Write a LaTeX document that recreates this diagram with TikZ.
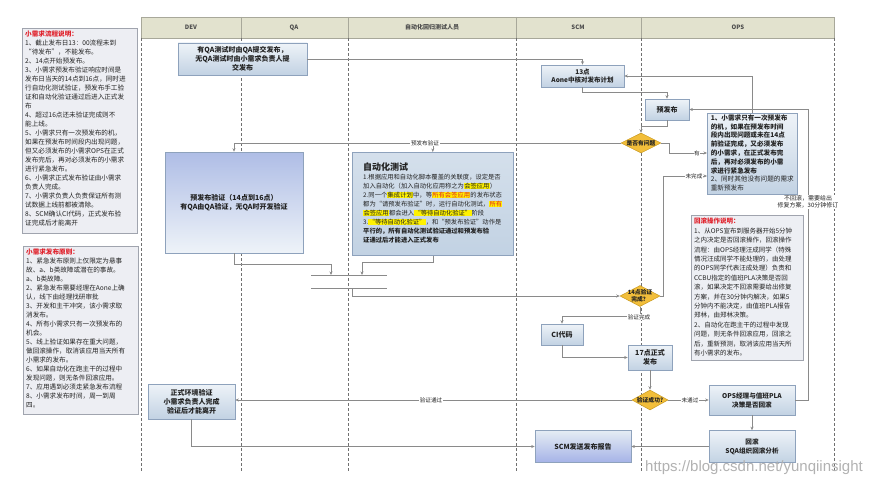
\documentclass[tikz,border=0pt]{standalone}
\usepackage{fontspec}
\setmainfont{Noto Sans CJK SC}
\newfontfamily\wmfont{Liberation Sans}
\usetikzlibrary{arrows.meta,shapes.geometric,calc}
\definecolor{hdr}{HTML}{E2E2CE}
\definecolor{hdrb}{HTML}{A8A89A}
\definecolor{lnc}{HTML}{8A8A8A}
\definecolor{lanec}{HTML}{707070}
\definecolor{bxb}{HTML}{8EA2BC}
\definecolor{bxt}{HTML}{EEF3F8}
\definecolor{bxd}{HTML}{C2D2E3}
\definecolor{dia}{HTML}{F2BE3A}
\definecolor{diab}{HTML}{C99A20}
\definecolor{pan}{HTML}{EDEEF3}
\definecolor{panb}{HTML}{A0A4AE}
\definecolor{redt}{HTML}{E0202A}
\definecolor{hly}{HTML}{FFF200}
\definecolor{txt}{HTML}{222222}
\newcommand{\hlite}[1]{{\setlength{\fboxsep}{0.3pt}\colorbox{hly}{#1}}}
\tikzset{
  box/.style={draw=bxb, top color=bxt, bottom color=bxd, line width=0.6pt, align=center,
    font=\fontsize{7}{9}\selectfont\bfseries, text=txt, inner sep=0pt},
  dmd/.style={shape=diamond, draw=diab, fill=dia, line width=0.5pt, inner sep=0pt},
  dtext/.style={font=\fontsize{5.8}{7}\selectfont\bfseries, text=txt, align=center, inner sep=0pt},
  arr/.style={draw=lnc, line width=0.6pt, -{Stealth[length=3.5pt,width=3pt]}},
  ln/.style={draw=lnc, line width=0.6pt},
  lane/.style={draw=lanec, line width=0.5pt, dash pattern=on 3pt off 2pt},
  lbl/.style={font=\fontsize{5.6}{7}\selectfont, text=txt, fill=white, inner sep=0.6pt, align=center},
  panel/.style={draw=panb, fill=pan, line width=0.6pt},
  ptext/.style={font=\fontsize{6.6}{9}\selectfont, text=txt, align=left, inner sep=0pt, anchor=north west},
  hlabel/.style={font=\fontsize{6}{7}\selectfont\bfseries, text=black!70}
}
\begin{document}
\begin{tikzpicture}[x=1pt,y=-1pt]
\useasboundingbox (0,0) rectangle (872,487);
\fill[white] (0,0) rectangle (872,487);

% ---------- header and lanes ----------
\draw[draw=hdrb, fill=hdr, line width=0.5pt] (141,17) rectangle (834,38);
\foreach \xx in {241,348,516,641} \draw[draw=hdrb, line width=0.5pt] (\xx,17) -- (\xx,38);
\foreach \xx in {141,241,348,516,641,834} \draw[lane] (\xx,38) -- (\xx,472);
\node[hlabel] (hdev) at (191,27.5) {DEV};
\node[hlabel] (hqa) at (294,27.5) {QA};
\node[hlabel] (hauto) at (432,27.5) {自动化回归测试人员};
\node[hlabel] (hscm) at (578,27.5) {SCM};
\node[hlabel] (hops) at (738,27.5) {OPS};

% ---------- left panels ----------
\draw[panel] (22,28) rectangle (137,233);
\node[ptext] (p1) at (25,31) {{\color{redt}\bfseries 小需求流程说明：}\\
1、截止发布日13：00流程未到\\
“待发布”，不能发布。\\
2、14点开始预发布。\\
3、小需求预发布验证响应时间是\\
发布日当天的14点到16点，同时进\\
行自动化测试验证，预发布手工验\\
证和自动化验证通过后进入正式发\\
布\\
4、超过16点还未验证完成则不\\
能上线。\\
5、小需求只有一次预发布的机，\\
如果在预发布时间段内出现问题，\\
但又必须发布的小需求OPS在正式\\
发布完后，再对必须发布的小需求\\
进行紧急发布。\\
6、小需求正式发布验证由小需求\\
负责人完成。\\
7、小需求负责人负责保证所有测\\
试数据上线前都被清除。\\
8、SCM确认CI代码，正式发布验\\
证完成后才能离开};

\draw[panel] (23,246) rectangle (138,414);
\node[ptext] (p2) at (26,249) {{\color{redt}\bfseries 小需求发布原则：}\\
1、紧急发布原则上仅限定为悬事\\
故、a、b类故障或潜在的事故。\\
a、b类故障。\\
2、紧急发布需要经理在Aone上确\\
认，线下由经理找研审批\\
3、开发和主干冲突，该小需求取\\
消发布。\\
4、所有小需求只有一次预发布的\\
机会。\\
5、线上验证如果存在重大问题，\\
做回滚操作，取消该应用当天所有\\
小需求的发布。\\
6、如果自动化在跑主干的过程中\\
发现问题，则无条件回滚应用。\\
7、应用遇到必须走紧急发布流程\\
8、小需求发布时间，周一到周\\
四。};

% ---------- nodes ----------
\node[box, minimum width=129pt, minimum height=32pt] (sub) at (242.5,59)
  {有QA测试时由QA提交发布，\\无QA测试时由小需求负责人提\\交发布};
\node[box, minimum width=83pt, minimum height=22pt, font=\fontsize{6.5}{8}\selectfont\bfseries] (plan) at (582.5,76)
  {13点\\Aone中核对发布计划};
\node[box, minimum width=44pt, minimum height=21pt] (pre) at (667,109.5) {预发布};
\node[dmd, minimum width=40pt, minimum height=20pt] (d1) at (641,143) {};
\node[dtext] (d1t) at (d1) {是否有问题};
\node[box, minimum width=90pt, minimum height=81pt, anchor=north west, font=\fontsize{6.6}{8.8}\selectfont\bfseries,
  align=left] (note1) at (707,113)
  {\begin{tabular}{@{}l@{}}1、小需求只有一次预发布\\
  的机，如果在预发布时间\\
  段内出现问题或未在14点\\
  前验证完成，又必须发布\\
  的小需求，在正式发布完\\
  后，再对必须发布的小需\\
  求进行紧急发布\\
  {\mdseries 2、同时其他没有问题的需求}\\
  {\mdseries 重新预发布}\end{tabular}};

\node[box, top color=bxd!90!blue, bottom color=bxt, minimum width=138pt, minimum height=101pt] (verify) at (234,202.5)
  {预发布验证（14点到16点）\\有QA由QA验证，无QA时开发验证};

\node[box, top color=bxd!70, bottom color=bxd, minimum width=161pt, minimum height=103pt, anchor=north west,
  font=\fontsize{6.3}{9}\selectfont, align=left] (auto) at (352,152)
  {\begin{tabular}{@{}l@{}}{\fontsize{9}{10}\selectfont\bfseries\itshape 自动化测试}\\
  1.根据应用和自动化脚本覆盖的关联度，设定是否\\
  加入自动化（加入自动化应用称之为\hlite{会签应用}）\\
  2.同一个\hlite{集成计划}中，等\hlite{\color{redt}所有会签应用}的发布状态\\
  都为“请预发布验证”时，运行自动化测试，\hlite{\color{redt}所有}\\
  \hlite{会签应用}都会进入\hlite{“等待自动化验证”}阶段\\
  3.\hlite{“等待自动化验证”}，和“预发布验证”动作是\\
  {\bfseries 平行的，所有自动化测试验证通过和预发布验}\\
  {\bfseries 证通过后才能进入正式发布}\end{tabular}};

\coordinate (b1l) at (311,275);
\coordinate (b1r) at (387,275);
\coordinate (b2l) at (311,288);
\coordinate (b2r) at (387,288);
\draw[ln] (b1l) -- (b1r);
\draw[ln] (b2l) -- (b2r);
\coordinate (b1a) at (331,275);
\coordinate (b1b) at (362,275);
\coordinate (b2a) at (352,288);

\node[dmd, minimum width=40pt, minimum height=21pt] (d2) at (640,296) {};
\node[dtext] (d2t) at (d2) {14点验证\\完成？};
\node[box, minimum width=42pt, minimum height=21pt] (ci) at (562,334.5) {CI代码};
\node[box, minimum width=44pt, minimum height=25pt] (rel) at (650,357.5) {17点正式\\发布};
\node[dmd, minimum width=36pt, minimum height=20pt] (d3) at (650,400) {};
\node[dtext] (d3t) at (d3) {验证成功?};
\node[box, minimum width=87pt, minimum height=35pt] (formal) at (191.5,401.5)
  {正式环境验证\\小需求负责人完成\\验证后才能离开};
\node[box, top color=bxt!80!bxd, bottom color=bxd!85!blue, minimum width=96pt, minimum height=32pt] (report) at (583,446.5) {SCM发送发布报告};
\node[box, minimum width=86pt, minimum height=30pt, font=\fontsize{6.6}{9}\selectfont\bfseries] (opsm) at (752,400)
  {OPS经理与值班PLA\\决策是否回滚};
\node[box, minimum width=86pt, minimum height=32pt, font=\fontsize{6.6}{9}\selectfont\bfseries] (rb) at (752,446.5)
  {回滚\\SQA组织回滚分析};

\node[draw=panb, fill=pan!70!bxt, line width=0.6pt, minimum width=112pt, minimum height=145pt, anchor=north west,
  inner sep=0pt] (note2) at (691,215) {};
\node[ptext, font=\fontsize{6.5}{9.4}\selectfont] (note2t) at (694,218) {{\color{redt}\bfseries 回滚操作说明：}\\
1、从OPS宣布到服务器开始5分钟\\
之内决定是否回滚操作，回滚操作\\
流程：由OPS经理汪成同学（特殊\\
情况汪成同学不能处理的，由处理\\
的OPS同学代表汪成处理）负责和\\
CCBU指定的值班PLA决策是否回\\
滚，如果决定不回滚需要给出修复\\
方案，并在30分钟内解决，如果5\\
分钟内不能决定，由值班PLA报告\\
郑林，由郑林决策。\\
2、自动化在跑主干的过程中发现\\
问题，则无条件回滚应用，回滚之\\
后，重新预测，取消该应用当天所\\
有小需求的发布。};

% ---------- connectors ----------
\draw[arr] (sub.east) -| (plan.north);
\draw[arr] (note1.north) |- (plan.east);
\draw[arr] (plan.south) -- ++(0,5) -| (pre.north);
\draw[arr] (opsm.east) -- ++(13,0) |- (pre.east);
\node[lbl, font=\fontsize{6}{7.5}\selectfont] (l30) at (808,202) {不回滚，需要给出\\修复方案，30分钟修订};
\draw[arr] (pre.south) -- ++(0,6) -| (d1.north);
\draw[arr] (d1.west) -| (verify.north);
\coordinate (autotop) at (auto.north |- d1.west);
\draw[arr] (autotop) -- (auto.north);
\node[lbl] (lpv) at (425,143) {预发布验证};
\draw[arr] (d1.east) -- ++(8,0) |- (note1.west |- 0,153);
\node[lbl] (lyou) at (697,153) {有};
\draw[arr] (verify.south) -- ++(0,11) -| (b1a);
\draw[arr] (auto.south) -- ++(0,7) -| (b1b);
\draw[arr] (b2a) |- (d2.west);
\draw[arr] (d2.east) -| (663,176) -- (note1.west |- 0,176);
\node[lbl] (lwwc) at (694,176) {未完成};
\draw[arr] (d2.south) -- ++(0,10) -| (ci.north);
\node[lbl] (lyzwc) at (639,317) {验证完成};
\draw[arr] (ci.south) |- (rel.west);
\draw[arr] (rel.south) -- (d3.north);
\draw[arr] (d3.west) -- (formal.east |- d3.west);
\node[lbl] (lyztg) at (431,400) {验证通过};
\draw[arr] (d3.east) -- (opsm.west);
\node[lbl] (lwtg) at (690,400) {未通过};
\draw[arr] (formal.south) |- (report.west);
\draw[arr] (rb.west) -- (report.east);
\draw[arr] (opsm.south) -- (rb.north);

% watermark
\node[font=\wmfont\fontsize{15}{16}\selectfont, text=black!30, anchor=east, inner sep=0pt] (wm) at (863,468) {https://blog.csdn.net/yunqiinsight};
\end{tikzpicture}
\end{document}
